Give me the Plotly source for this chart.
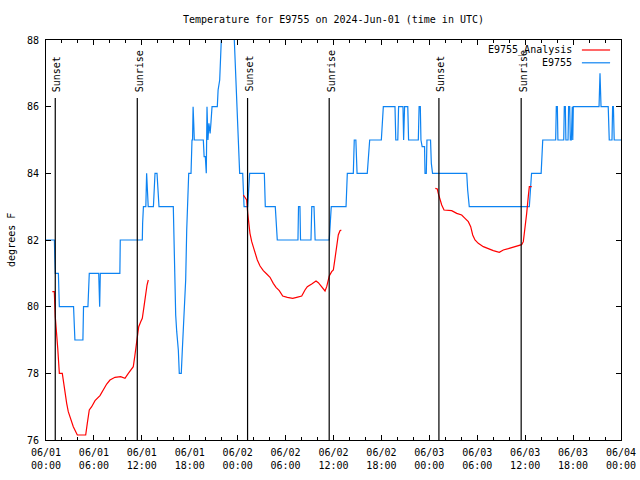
import pandas as pd
import plotly.graph_objects as go

BASE = pd.Timestamp("2024-06-01 00:00")

# Observed station temperatures (hours since 06/01 00:00 UTC, degrees F)
blue_hours = [0.00, 1.05, 1.10, 1.17, 1.55, 1.60, 1.67, 3.45, 3.50, 3.62, 4.62, 4.70, 5.25, 5.30, 5.42,
              6.60, 6.65, 6.72, 6.80, 9.25, 9.30, 12.06, 12.10, 12.20, 12.50, 12.55, 12.60, 12.70, 12.80,
              13.45, 13.55, 13.65, 13.90, 14.00, 14.15, 15.94, 16.00, 16.07, 16.24, 16.37, 16.57, 16.69,
              16.94, 17.07, 17.19, 17.32, 17.49, 17.62, 17.75, 17.87, 18.16, 18.20, 18.28, 18.35, 18.42,
              18.50, 18.57, 19.70, 19.80, 19.95, 20.07, 20.16, 20.28, 20.40, 20.55, 20.65, 20.79, 21.45,
              21.55, 21.75, 21.85, 21.95, 22.30, 23.20, 23.58, 23.75, 23.95, 24.05, 24.18, 24.25, 24.63,
              24.70, 24.80, 25.25, 25.38, 25.50, 27.34, 27.46, 28.71, 28.83, 28.96, 31.55, 31.62, 31.80,
              31.87, 33.18, 33.28, 33.56, 33.70, 35.47, 35.55, 35.72, 37.57, 37.65, 37.73, 38.48, 38.60,
              38.80, 38.95, 40.23, 40.35, 40.53, 41.99, 42.10, 42.24, 43.70, 43.80, 44.05, 44.15, 44.70,
              44.78, 44.90, 45.30, 45.40, 46.62, 46.72, 46.87, 46.95, 47.10, 47.40, 47.46, 47.62, 47.70,
              48.15, 48.25, 48.40, 52.68, 52.80, 53.00, 60.52, 60.62, 60.80, 62.00, 62.20, 63.82, 63.90,
              64.03, 64.10, 64.83, 64.90, 65.03, 65.10, 65.37, 65.44, 65.58, 65.65, 65.78, 65.84, 65.90,
              65.96, 66.03, 69.25, 69.37, 69.50, 70.40, 70.53, 70.87, 70.95, 71.05, 71.15, 72.00]
blue_temps = [82.0, 82.0, 81.5, 81.0, 81.0, 80.5, 80.0, 80.0, 79.75, 79.0, 79.0, 80.0, 80.0, 80.5, 81.0,
              81.0, 80.5, 80.0, 81.0, 81.0, 82.0, 82.0, 82.5, 83.0, 83.0, 83.5, 84.0, 83.5, 83.0,
              83.0, 83.5, 84.0, 84.0, 83.5, 83.0, 83.0, 82.3, 80.8, 79.75, 79.25, 78.7, 78.0,
              78.0, 78.7, 79.25, 79.75, 80.8, 82.3, 83.2, 84.0, 84.0, 84.5, 85.0, 85.0, 86.0,
              85.5, 85.0, 85.0, 84.5, 84.5, 84.0, 86.0, 85.0, 85.5, 85.2, 85.5, 86.0, 86.0,
              86.5, 86.8, 87.3, 88.0, 88.6, 88.6, 88.0, 87.0, 86.0, 85.0, 84.4, 84.0, 84.0,
              83.5, 83.0, 83.0, 83.5, 84.0, 84.0, 83.0, 83.0, 82.5, 82.0, 82.0, 83.0, 83.0,
              82.0, 82.0, 83.0, 83.0, 82.0, 82.0, 82.3, 83.0, 83.0, 83.7, 84.0, 84.0, 85.0,
              85.0, 84.0, 84.0, 84.5, 85.0, 85.0, 85.5, 86.0, 86.0, 85.0, 85.0, 86.0, 86.0,
              85.0, 86.0, 86.0, 85.0, 85.0, 86.0, 86.0, 85.0, 84.8, 84.8, 84.0, 84.0, 85.0,
              85.0, 84.3, 84.0, 84.0, 83.5, 83.0, 83.0, 83.5, 84.0, 84.0, 85.0, 85.0, 86.0,
              86.0, 85.0, 85.0, 86.0, 86.0, 85.0, 85.0, 86.0, 86.0, 85.0, 85.0, 86.0, 86.0,
              85.0, 86.0, 86.0, 87.0, 86.0, 86.0, 85.0, 85.0, 86.0, 86.0, 85.0, 85.0]

# Analysis temperatures, three nightly segments
red1_hours = [0.79, 1.04, 1.16, 1.34, 1.47, 1.59, 1.67, 2.04, 2.17, 2.38, 2.59, 2.79, 3.09, 3.42, 3.92,
              4.97, 5.17, 5.42, 5.72, 6.14, 6.76, 7.18, 7.60, 8.01, 8.64, 9.35, 9.89, 10.31, 10.73,
              10.93, 11.11, 11.27, 11.43, 11.61, 11.86, 12.06, 12.27, 12.48, 12.65, 12.81]
red1_temps = [80.45, 80.45, 79.7, 79.25, 78.75, 78.3, 78.0, 78.0, 77.75, 77.4, 77.1, 76.85, 76.6, 76.4,
              76.15, 76.15, 76.5, 76.9, 77.0, 77.18, 77.33, 77.5, 77.68, 77.8, 77.88, 77.9, 77.85, 78.0,
              78.12, 78.2, 78.5, 78.85, 79.1, 79.4, 79.55, 79.65, 80.0, 80.4, 80.65, 80.8]
red2_hours = [24.71, 25.13, 25.26, 25.38, 25.54, 25.76, 25.96, 26.17, 26.46, 26.80, 27.21, 27.64, 28.05,
              28.46, 28.80, 29.21, 29.64, 30.22, 30.89, 31.39, 32.02, 32.43, 32.72, 33.27, 33.81, 34.10,
              34.52, 34.94, 35.15, 35.47, 35.77, 35.98, 36.19, 36.40, 36.60, 36.81, 36.98]
red2_temps = [83.35, 83.2, 82.8, 82.5, 82.2, 81.95, 81.8, 81.6, 81.4, 81.22, 81.08, 80.98, 80.88, 80.7,
              80.58, 80.48, 80.32, 80.28, 80.25, 80.28, 80.32, 80.5, 80.6, 80.68, 80.77, 80.72, 80.58,
              80.47, 80.6, 80.92, 81.05, 81.1, 81.45, 81.8, 82.15, 82.28, 82.3]
red3_hours = [48.75, 49.00, 49.12, 49.34, 49.55, 49.84, 50.80, 51.43, 52.05, 52.47, 52.88, 53.18, 53.43,
              53.72, 54.13, 54.76, 55.38, 56.01, 56.76, 57.26, 57.89, 58.51, 59.14, 59.56, 59.77, 59.98,
              60.19, 60.39, 60.52, 60.82]
red3_temps = [83.55, 83.53, 83.4, 83.2, 83.05, 82.9, 82.88, 82.8, 82.75, 82.65, 82.55, 82.4, 82.15, 82.0,
              81.9, 81.8, 81.73, 81.68, 81.63, 81.7, 81.74, 81.78, 81.81, 81.86, 81.95, 82.3, 82.8, 83.3,
              83.6, 83.6]

# Sun events (hours since 06/01 00:00 UTC)
sun_event_hours = [1.16, 11.43, 25.24, 35.46, 49.20, 59.50]
sun_event_labels = ["Sunset", "Sunrise", "Sunset", "Sunrise", "Sunset", "Sunrise"]

x_tick_hours = [0, 6, 12, 18, 24, 30, 36, 42, 48, 54, 60, 66, 72]
x_tick_labels = ["06/01<br>00:00", "06/01<br>06:00", "06/01<br>12:00", "06/01<br>18:00",
                 "06/02<br>00:00", "06/02<br>06:00", "06/02<br>12:00", "06/02<br>18:00",
                 "06/03<br>00:00", "06/03<br>06:00", "06/03<br>12:00", "06/03<br>18:00",
                 "06/04<br>00:00"]
y_ticks = [76, 78, 80, 82, 84, 86, 88]

legend_names = ["E9755_Analysis", "E9755"]
BLUE = "#0d83f2"
RED = "#ff0000"
FONT = "DejaVu Sans Mono"


def to_time(hours):
    return [None if h is None else BASE + pd.Timedelta(hours=h) for h in hours]


red_hours = red1_hours + [None] + red2_hours + [None] + red3_hours
red_temps = red1_temps + [None] + red2_temps + [None] + red3_temps

fig = go.Figure()
fig.add_trace(go.Scatter(x=to_time(blue_hours), y=blue_temps, mode="lines", name=legend_names[1],
                         line=dict(color=BLUE, width=1.2), showlegend=False))
fig.add_trace(go.Scatter(x=to_time(red_hours), y=red_temps, mode="lines", name=legend_names[0],
                         line=dict(color=RED, width=1.2), connectgaps=False, showlegend=False))

for h, lab in zip(sun_event_hours, sun_event_labels):
    t = BASE + pd.Timedelta(hours=h)
    fig.add_shape(type="line", xref="x", yref="paper", x0=t, x1=t, y0=0, y1=0.855,
                  line=dict(color="black", width=1.2))
    center = 0.87 + len(lab) * 6.0 / 2 / 400
    fig.add_annotation(x=t, y=center, xref="x", yref="paper", text=lab, textangle=-90,
                       showarrow=False, xanchor="center", yanchor="middle", xshift=2,
                       font=dict(family=FONT, size=10, color="black"))

# Key (gnuplot-style: text right, sample to the right)
key_y = [0.975, 0.943]
key_colors = [RED, BLUE]
for name, ky, col in zip(legend_names, key_y, key_colors):
    fig.add_annotation(x=0.918, y=ky, xref="paper", yref="paper", text=name, showarrow=False,
                       xanchor="right", yanchor="middle", font=dict(family=FONT, size=10, color="black"))
    fig.add_shape(type="line", xref="paper", yref="paper", x0=0.932, x1=0.981, y0=ky, y1=ky,
                  line=dict(color=col, width=1.2))

fig.add_annotation(x=-0.061, y=0.5, xref="paper", yref="paper", text="degrees F", textangle=-90,
                   showarrow=False, xanchor="center", yanchor="middle",
                   font=dict(family=FONT, size=10, color="black"))

fig.update_layout(
    width=640, height=480,
    margin=dict(l=46, r=19, t=40, b=40, autoexpand=False),
    paper_bgcolor="white", plot_bgcolor="white",
    font=dict(family=FONT, size=10, color="black"),
    title=dict(text="Temperature for E9755 on 2024-Jun-01 (time in UTC)", x=0.5, xref="paper",
               y=1 - 19 / 480, yanchor="middle", xanchor="center",
               font=dict(family=FONT, size=10, color="black")),
    showlegend=False,
)
fig.update_xaxes(
    range=[BASE, BASE + pd.Timedelta(hours=72)],
    tickvals=to_time(x_tick_hours), ticktext=x_tick_labels,
    showgrid=False, zeroline=False, showline=True, linecolor="black", linewidth=1,
    mirror="allticks", ticks="inside", ticklen=5, tickcolor="black", automargin=False,
    ticklabelstandoff=3,
    minor=dict(ticks="inside", ticklen=3, dtick=2 * 3600 * 1000, tick0=BASE, tickcolor="black",
               showgrid=False),
    tickfont=dict(family=FONT, size=10, color="black"),
)
fig.update_yaxes(
    range=[76, 88], tickvals=y_ticks, ticktext=[str(v) for v in y_ticks],
    showgrid=False, zeroline=False, showline=True, linecolor="black", linewidth=1,
    mirror="allticks", ticks="inside", ticklen=5, tickcolor="black", ticklabelstandoff=4,
    automargin=False, tickfont=dict(family=FONT, size=10, color="black"),
)

# Remove the browser's default 8px body margin so the 640x480 figure fills the window.
fig.write_html("out.html", config={"displayModeBar": False},
               post_script="document.body.style.margin='0';document.body.style.overflow='hidden';")
